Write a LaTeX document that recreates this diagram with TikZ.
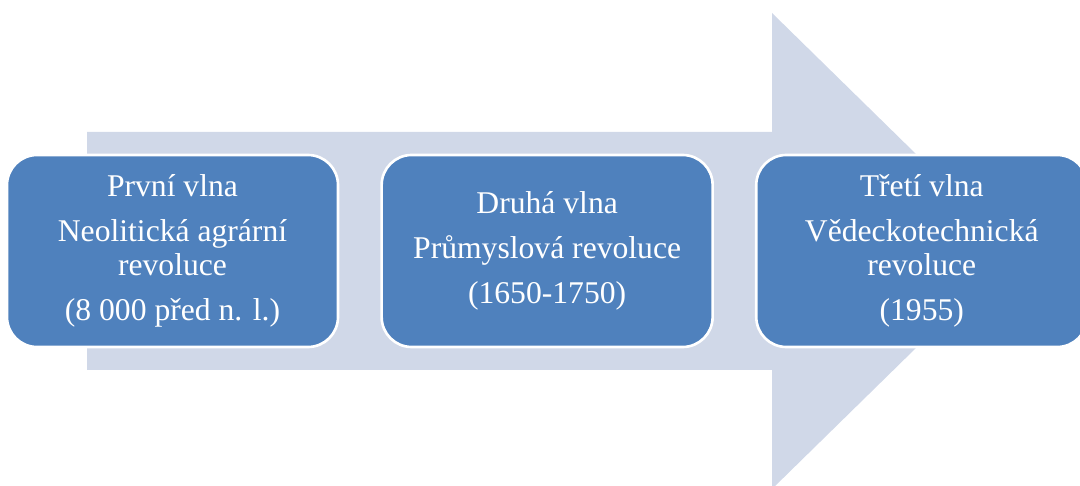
\documentclass[tikz,border=0pt]{standalone}
\usepackage{fontspec}
\setmainfont{Liberation Serif}
\usepackage{xcolor}
\usetikzlibrary{positioning}
\definecolor{arrowfill}{RGB}{208,216,232}
\definecolor{boxfill}{RGB}{79,129,189}

\begin{document}
\begin{tikzpicture}[
	wave/.style={rectangle, rounded corners=0.6cm, fill=boxfill, draw=white, line width=1.5pt,
		minimum width=6.62cm, minimum height=3.84cm, align=center, text=white,
		font=\fontsize{18}{19.4}\selectfont}]
	\useasboundingbox (0,0) rectangle (21.6,9.7);
	% big arrow
	\fill[arrowfill] (1.74,2.30) -- (1.74,7.06) -- (15.44,7.06) -- (15.44,9.44)
		-- (20.3,4.68) -- (15.44,-0.08) -- (15.44,2.30) -- cycle;
	
	% waves
	\node[wave] (first) at (3.45,4.68) {První vlna\\[6pt]Neolitická agrární\\revoluce\\[6pt](8 000 před n. l.)};
	\node[wave, right=0.82cm of first] (second) {Druhá vlna\\[6pt]Průmyslová revoluce\\[6pt](1650-1750)};
	\node[wave, right=0.82cm of second] (third) {Třetí vlna\\[6pt]Vědeckotechnická\\revoluce\\[6pt](1955)};
\end{tikzpicture}
\end{document}
